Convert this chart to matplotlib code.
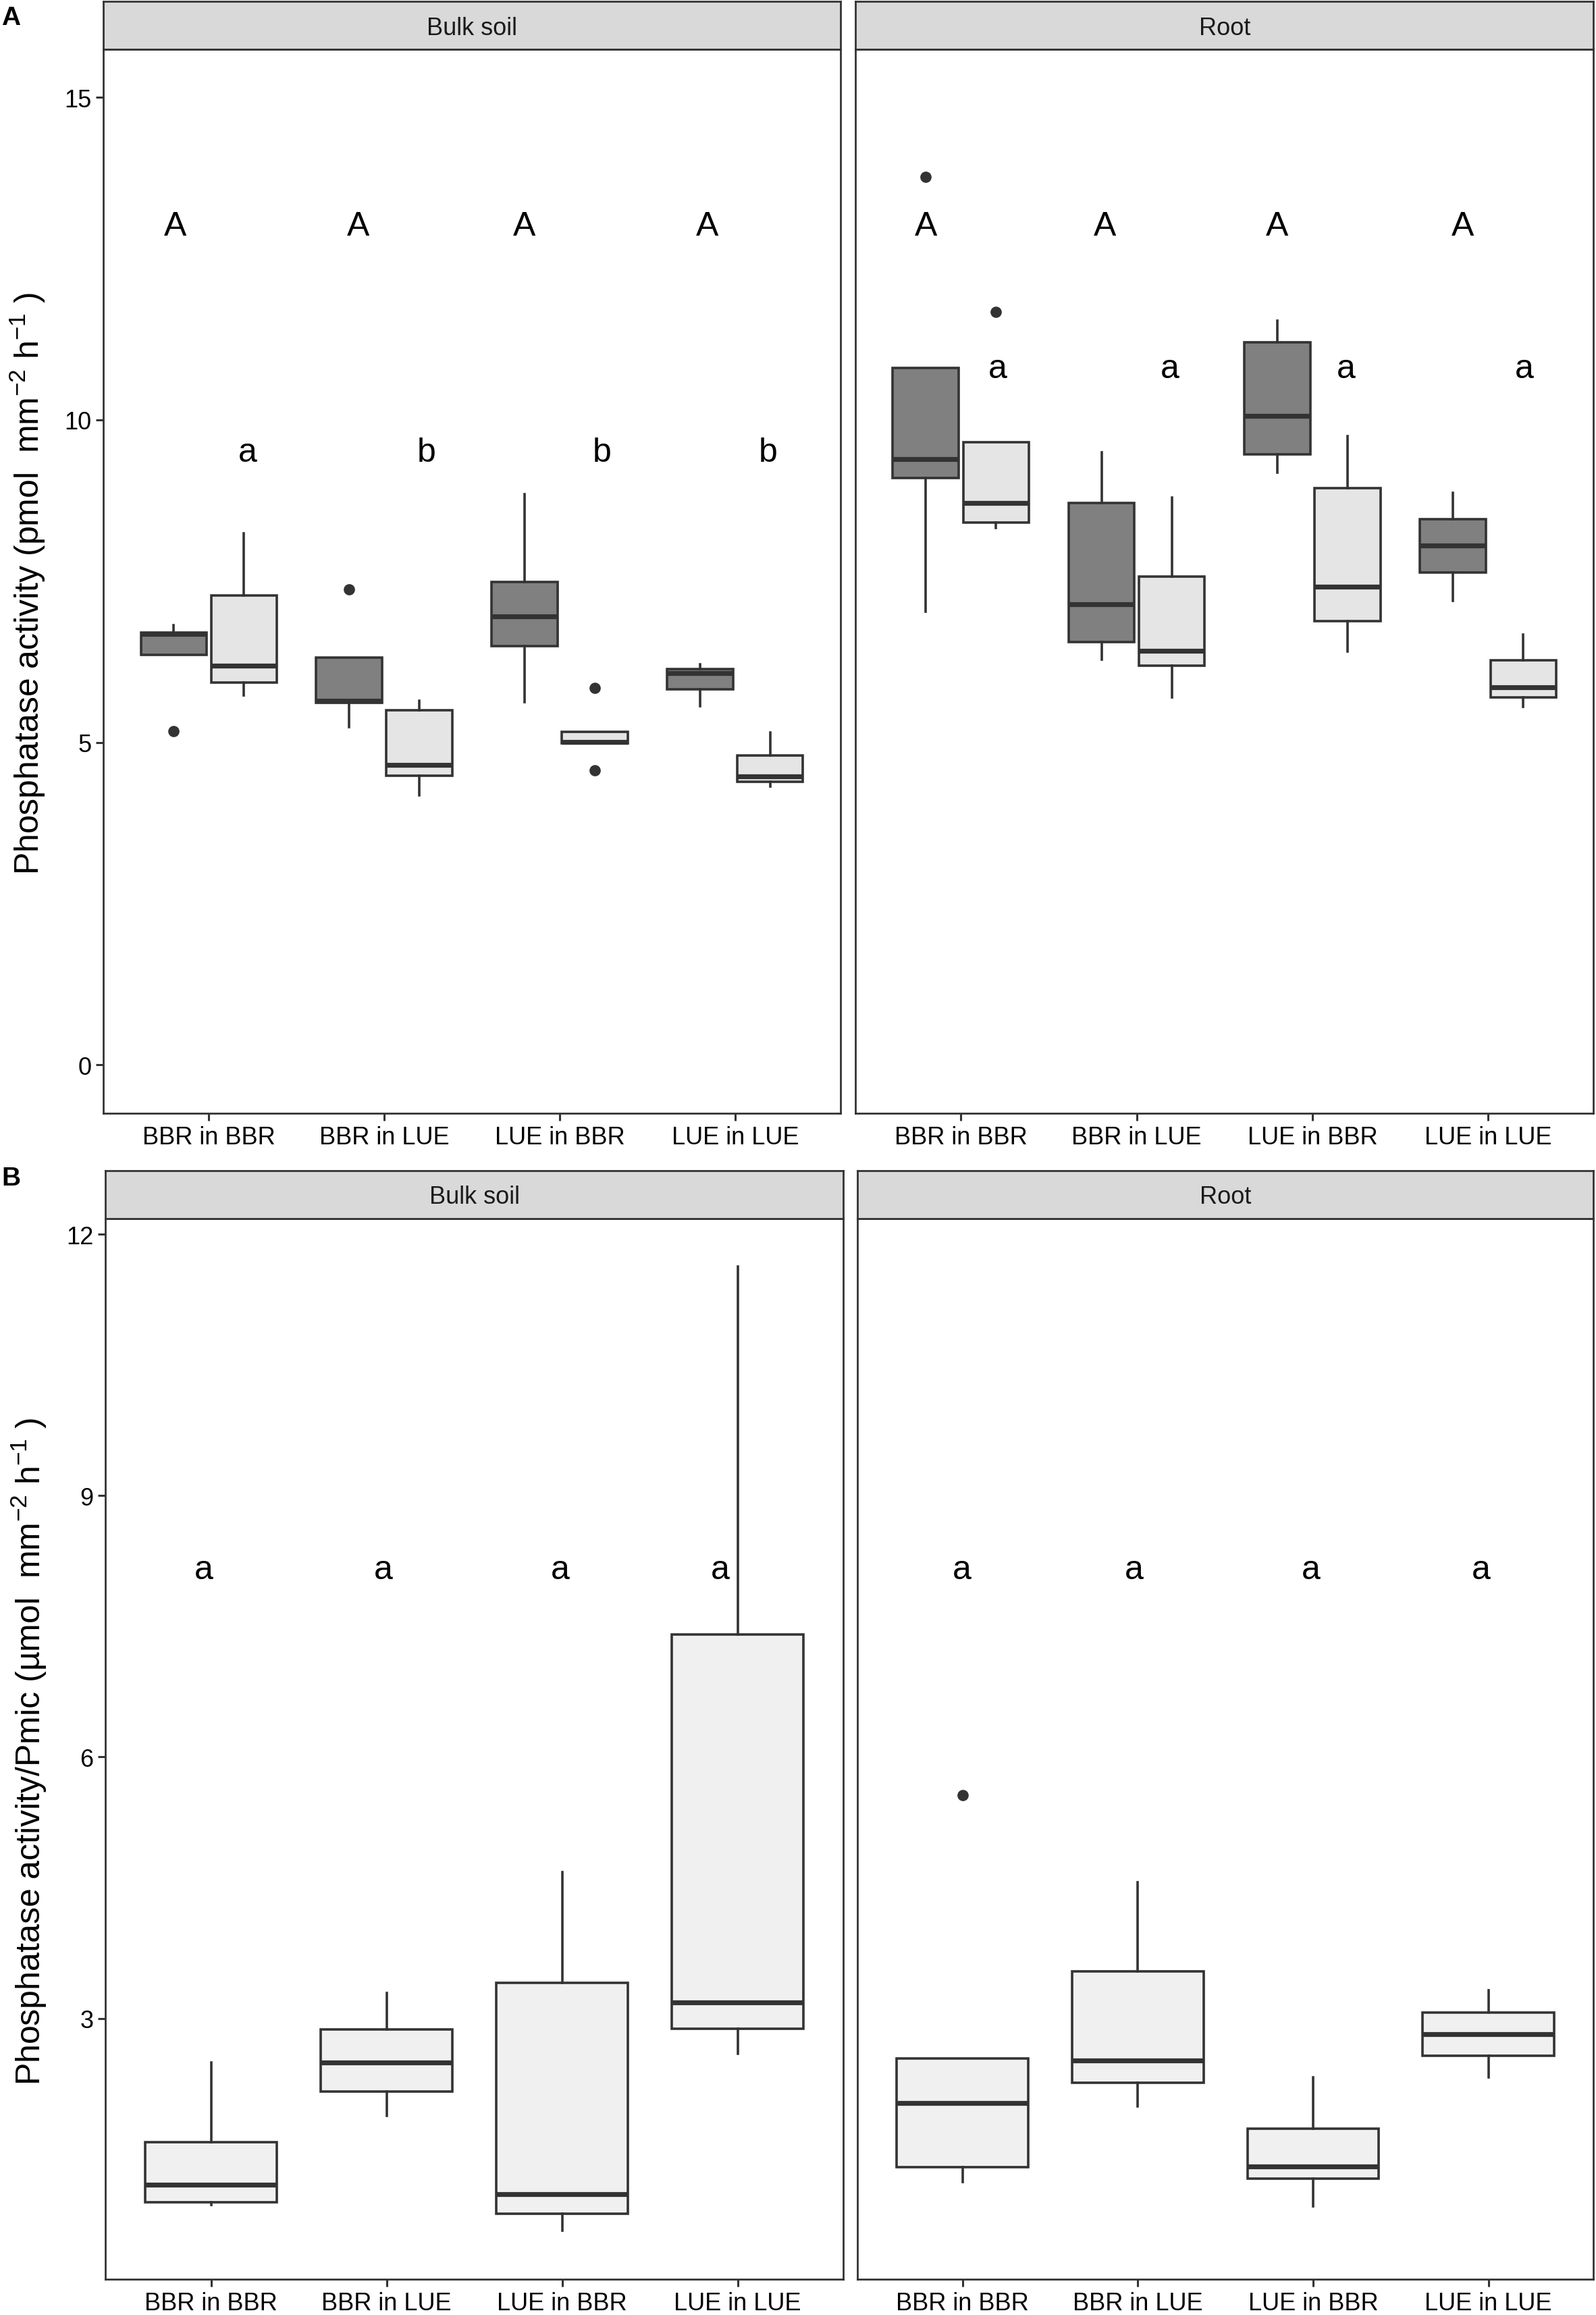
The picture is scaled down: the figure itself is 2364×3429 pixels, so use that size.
import matplotlib
matplotlib.use("Agg")
import matplotlib.pyplot as plt

plt.rcParams['font.family'] = ['Liberation Sans', 'DejaVu Sans']
plt.rcParams['mathtext.fontset'] = 'custom'
plt.rcParams['mathtext.rm'] = 'Liberation Sans'
plt.rcParams['mathtext.it'] = 'Liberation Sans:italic'

categories = ["BBR in BBR", "BBR in LUE", "LUE in BBR", "LUE in LUE"]
facets = ["Bulk soil", "Root"]

# box stats per category: [whislo, q1, median, q3, whishi]
a_bulk_dark = [[6.36, 6.36, 6.68, 6.70, 6.82],
               [5.24, 5.61, 5.65, 6.31, 6.31],
               [5.62, 6.49, 6.95, 7.49, 8.85],
               [5.56, 5.82, 6.07, 6.14, 6.21]]
a_bulk_dark_out = [[5.17], [7.37], [], []]
a_bulk_light = [[5.73, 5.93, 6.19, 7.28, 8.24],
                [4.18, 4.48, 4.65, 5.50, 5.65],
                [4.98, 4.98, 5.01, 5.16, 5.16],
                [4.32, 4.39, 4.47, 4.80, 5.15]]
a_bulk_light_out = [[], [], [5.84, 4.57], []]
a_root_dark = [[7.03, 9.10, 9.39, 10.81, 10.81],
               [6.28, 6.56, 7.14, 8.71, 9.50],
               [9.18, 9.47, 10.06, 11.20, 11.54],
               [7.19, 7.63, 8.05, 8.46, 8.87]]
a_root_dark_out = [[13.77], [], [], []]
a_root_light = [[8.32, 8.41, 8.71, 9.65, 9.65],
                [5.70, 6.19, 6.42, 7.57, 8.80],
                [6.41, 6.88, 7.41, 8.94, 9.75],
                [5.55, 5.70, 5.85, 6.27, 6.67]]
a_root_light_out = [[11.68], [], [], []]

b_bulk = [[0.86, 0.89, 1.09, 1.58, 2.49],
          [1.88, 2.16, 2.49, 2.87, 3.29],
          [0.56, 0.76, 0.98, 3.41, 4.68],
          [2.59, 2.88, 3.18, 7.41, 11.63]]
b_bulk_out = [[], [], [], []]
b_root = [[1.12, 1.29, 2.03, 2.54, 2.54],
          [1.99, 2.26, 2.52, 3.54, 4.56],
          [0.84, 1.16, 1.30, 1.73, 2.32],
          [2.32, 2.57, 2.82, 3.07, 3.32]]
b_root_out = [[5.56], [], [], []]

# significance letters and where they sit
a_upper = {"Bulk soil": ["A", "A", "A", "A"], "Root": ["A", "A", "A", "A"]}
a_upper_x = {"Bulk soil": [0.81, 1.85, 2.80, 3.84], "Root": [0.80, 1.82, 2.80, 3.855]}
a_upper_y = 13
a_lower = {"Bulk soil": ["a", "b", "b", "b"], "Root": ["a", "a", "a", "a"]}
a_lower_x = {"Bulk soil": [1.22, 2.24, 3.24, 4.19], "Root": [1.21, 2.19, 3.19, 4.205]}
a_lower_y = {"Bulk soil": 9.5, "Root": 10.8}
b_letters = {"Bulk soil": ["a", "a", "a", "a"], "Root": ["a", "a", "a", "a"]}
b_letters_x = {"Bulk soil": [0.96, 1.98, 2.99, 3.90], "Root": [0.995, 1.98, 2.986, 3.96]}
b_letters_y = 8.15

a_ylabel = r"Phosphatase activity (pmol  mm$^{-2}$ h$^{-1}$ )"
b_ylabel = r"Phosphatase activity/Pmic (µmol  mm$^{-2}$ h$^{-1}$ )"

DARK = "#808080"
LIGHT = "#E5E5E5"
BFILL = "#F0F0F0"
EDGE = "#333333"


def make_stats(rows, outs):
    st = []
    for r, o in zip(rows, outs):
        st.append(dict(whislo=r[0], q1=r[1], med=r[2], q3=r[3], whishi=r[4], fliers=o))
    return st


def draw_boxes(ax, rows, outs, pos, width, fill):
    ax.bxp(make_stats(rows, outs), positions=pos, widths=width, patch_artist=True,
           showcaps=False, manage_ticks=False,
           boxprops=dict(facecolor=fill, edgecolor=EDGE, linewidth=1.3),
           medianprops=dict(color=EDGE, linewidth=2.6, solid_capstyle='butt'),
           whiskerprops=dict(color=EDGE, linewidth=1.3),
           flierprops=dict(marker='o', markerfacecolor=EDGE, markeredgecolor=EDGE,
                           markersize=5, linestyle='none'))


def style_panel(fig, ax, title, ylim, yticks, show_y):
    ax.set_xlim(0.4, 4.6)
    ax.set_ylim(*ylim)
    ax.set_xticks(range(1, 5))
    ax.set_xticklabels(categories)
    ax.set_yticks(yticks)
    for s in ax.spines.values():
        s.set_color(EDGE)
        s.set_linewidth(1.0)
    ax.tick_params(direction='out', length=4, width=1.1, color=EDGE,
                   labelsize=13, pad=2.5, labelcolor='black')
    if not show_y:
        ax.tick_params(left=False, labelleft=False)
    # strip on top
    p = ax.get_position()
    sax = fig.add_axes([p.x0, p.y1, p.width, strip_h])
    sax.set_facecolor("#D9D9D9")
    sax.set_xticks([])
    sax.set_yticks([])
    for s in sax.spines.values():
        s.set_color(EDGE)
        s.set_linewidth(1.0)
    sax.text(0.5, 0.45, title, ha='center', va='center', fontsize=13, color='#1A1A1A',
             transform=sax.transAxes)


fig = plt.figure(figsize=(11.82, 17.15), dpi=200)
strip_h = 0.0205
xs = list(range(1, 5))

# ---- panel A
a_data = {"Bulk soil": (a_bulk_dark, a_bulk_dark_out, a_bulk_light, a_bulk_light_out),
          "Root": (a_root_dark, a_root_dark_out, a_root_light, a_root_light_out)}
a_pos = {"Bulk soil": [0.0649, 0.519, 0.4616, 0.4595],
         "Root": [0.536, 0.519, 0.4625, 0.4595]}
for f in facets:
    ax = fig.add_axes(a_pos[f])
    dk, dko, lt, lto = a_data[f]
    draw_boxes(ax, dk, dko, [x - 0.2 for x in xs], 0.375, DARK)
    draw_boxes(ax, lt, lto, [x + 0.2 for x in xs], 0.375, LIGHT)
    for i in range(4):
        ax.text(a_upper_x[f][i], a_upper_y, a_upper[f][i], ha='center', va='center', fontsize=18)
        ax.text(a_lower_x[f][i], a_lower_y[f], a_lower[f][i], ha='center', va='center', fontsize=18)
    style_panel(fig, ax, f, (-0.75, 15.75), [0, 5, 10, 15], f == "Bulk soil")

# ---- panel B
b_data = {"Bulk soil": (b_bulk, b_bulk_out), "Root": (b_root, b_root_out)}
allv = [v for rows in (b_bulk, b_root) for r in rows for v in r] + \
       [v for o in b_root_out + b_bulk_out for v in o]
lo, hi = min(allv), max(allv)
rng = hi - lo
b_pos = {"Bulk soil": [0.0662, 0.0155, 0.462, 0.4581],
         "Root": [0.5372, 0.0155, 0.4613, 0.4581]}
for f in facets:
    ax = fig.add_axes(b_pos[f])
    rows, outs = b_data[f]
    draw_boxes(ax, rows, outs, xs, 0.75, BFILL)
    for i in range(4):
        ax.text(b_letters_x[f][i], b_letters_y, b_letters[f][i], ha='center', va='center', fontsize=18)
    style_panel(fig, ax, f, (lo - 0.05 * rng, hi + 0.05 * rng), [3, 6, 9, 12], f == "Bulk soil")

fig.text(0.0244, 0.748, a_ylabel, rotation=90, rotation_mode='anchor',
         ha='center', va='baseline', fontsize=18)
fig.text(0.0254, 0.2437, b_ylabel, rotation=90, rotation_mode='anchor',
         ha='center', va='baseline', fontsize=18)
fig.text(0.001, 0.9975, "A", fontsize=14, fontweight='bold', va='top', ha='left')
fig.text(0.001, 0.4962, "B", fontsize=14, fontweight='bold', va='top', ha='left')

fig.savefig("out.png", dpi=200)
